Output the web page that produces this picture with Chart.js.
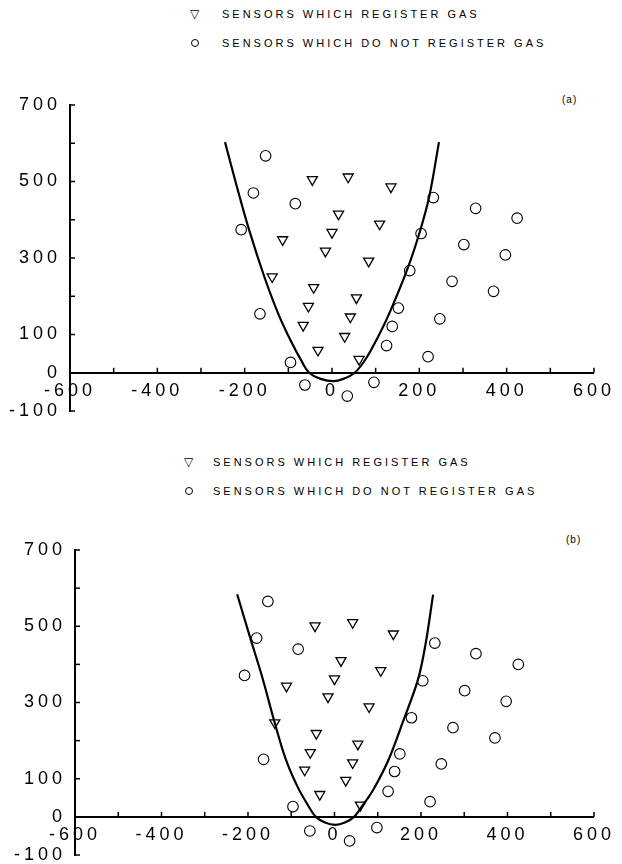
<!DOCTYPE html>
<html><head><meta charset="utf-8">
<script src="https://cdn.jsdelivr.net/npm/chart.js@4/dist/chart.umd.min.js"></script>
<style>
body{margin:0;background:#fff;width:622px;height:864px;position:relative;overflow:hidden;font-family:"Liberation Sans",Arial,sans-serif;color:#000;}
.panel{position:absolute;left:0;width:622px;}
.leg{position:absolute;font-size:11px;line-height:14px;letter-spacing:3px;white-space:nowrap;}
.sym{position:absolute;font-size:12px;line-height:14px;}
.circ{position:absolute;width:6px;height:6px;border:1.2px solid #000;border-radius:50%;}
.tag{position:absolute;font-size:10px;line-height:12px;letter-spacing:1px;}
</style></head><body>

<div class="sym" style="left:190px;top:7px">▽</div>
<div class="leg" style="left:222px;top:7px">SENSORS WHICH REGISTER GAS</div>
<div class="circ" style="left:191px;top:39px"></div>
<div class="leg" style="left:222px;top:36px">SENSORS WHICH DO NOT REGISTER GAS</div>
<div class="tag" style="left:562px;top:94px">(a)</div>

<div class="sym" style="left:184px;top:455px">▽</div>
<div class="leg" style="left:213px;top:455px">SENSORS WHICH REGISTER GAS</div>
<div class="circ" style="left:185px;top:487px"></div>
<div class="leg" style="left:213px;top:484px">SENSORS WHICH DO NOT REGISTER GAS</div>
<div class="tag" style="left:566px;top:534px">(b)</div>

<div class="panel" style="top:0;height:450px"><canvas id="ca" width="622" height="450"></canvas></div>
<div class="panel" style="top:420px;height:470px"><canvas id="cb" width="622" height="470"></canvas></div>

<script>
// ---- tick labels ----
const xTickLabels = [-600, -400, -200, 0, 200, 400, 600];
const yTickLabels = [700, 500, 300, 100, 0, -100];

// ---- panel (a) ----
const regA_x = [-45, 37, 135, 15, 109, 0, -113, -15, 84, -137, -42, 56, -54, 42, -66, 29, -32, 62];
const regA_y = [505, 512, 486, 415, 389, 367, 348, 318, 292, 251, 223, 196, 174, 146, 124, 95, 59, 35];
const notA_x = [203, -152, -180, -84, -208, 232, 329, 424, 204, 302, 397, 178, 275, 370, -165, 152, 247, 138, 125, 220, -95, -62, 96, 35];
const notA_y = [724, 567, 470, 442, 374, 458, 430, 404, 364, 335, 308, 267, 239, 213, 154, 169, 141, 121, 71, 42, 27, -32, -25, -61];
const curveA_x = [-245, -218, -190, -155, -123, -95, -68, -52, -26, 3, 26, 52, 75, 100, 130, 173, 202, 223, 245];
const curveA_y = [603, 487, 374, 251, 154, 85, 27, 0, -16, -22, -16, 0, 32, 82, 152, 272, 372, 462, 603];

// ---- panel (b) ----
const regB_x = [-45, 42, 136, 15, 107, 0, -111, -15, 80, -138, -42, 54, -56, 42, -69, 26, -34, 60];
const regB_y = [501, 510, 480, 410, 384, 362, 343, 315, 289, 247, 219, 191, 169, 142, 123, 96, 59, 31];
const notB_x = [205, -154, -180, -84, -208, 232, 327, 425, 204, 301, 397, 178, 274, 371, -164, 151, 247, 139, 124, 221, -96, -57, 98, 35];
const notB_y = [724, 565, 469, 440, 371, 456, 428, 400, 357, 331, 303, 260, 234, 207, 151, 165, 139, 119, 67, 40, 27, -37, -28, -63];
const curveB_x = [-225, -195, -168, -139, -113, -85, -60, -43, -22, 2, 24, 45, 65, 90, 125, 160, 193, 211, 228];
const curveB_y = [584, 470, 370, 250, 152, 78, 28, 0, -15, -21, -15, 0, 30, 72, 150, 255, 360, 456, 583];

const FONT = "'Liberation Sans', Arial, sans-serif";
const INK = '#000';

function pts(xs, ys) { return xs.map((x, i) => ({x: x, y: ys[i]})); }

const spacing = {
  id: 'spacing',
  beforeLayout(chart) { chart.ctx.letterSpacing = '4px'; },
  beforeDraw(chart) { chart.ctx.letterSpacing = '4px'; }
};

const tickMarks = {
  id: 'tickMarks',
  afterDraw(chart) {
    const ctx = chart.ctx, xs = chart.scales.x, ys = chart.scales.y;
    const y0 = ys.getPixelForValue(0);
    const x0 = xs.getPixelForValue(-600);
    ctx.save();
    ctx.strokeStyle = INK;
    ctx.lineWidth = 1.5;
    xs.ticks.forEach(t => {
      const px = xs.getPixelForValue(t.value);
      ctx.beginPath(); ctx.moveTo(px, y0); ctx.lineTo(px, y0 - 5); ctx.stroke();
    });
    ys.ticks.forEach(t => {
      const py = ys.getPixelForValue(t.value);
      ctx.beginPath(); ctx.moveTo(x0, py); ctx.lineTo(x0 + 5, py); ctx.stroke();
    });
    ctx.restore();
  }
};

function makeChart(id, reg, not, curve, area, H) {
  return new Chart(document.getElementById(id), {
    type: 'scatter',
    data: {
      datasets: [
        { label: 'SENSORS WHICH REGISTER GAS', data: reg, pointStyle: 'triangle', rotation: 180,
          pointRadius: 5.8, backgroundColor: 'rgba(0,0,0,0)', borderColor: INK, borderWidth: 1.3, clip: false },
        { label: 'SENSORS WHICH DO NOT REGISTER GAS', data: not, pointStyle: 'circle',
          pointRadius: 5.3, backgroundColor: 'rgba(0,0,0,0)', borderColor: INK, borderWidth: 1.1, clip: false },
        { label: 'boundary', data: curve, showLine: true, pointRadius: 0, borderColor: INK,
          borderWidth: 2.2, tension: 0.35, fill: false, clip: false }
      ]
    },
    options: {
      responsive: false, animation: false, devicePixelRatio: 1,
      layout: { padding: { top: area.top, bottom: H - area.bottom, right: 622 - area.right, left: 0 } },
      plugins: { legend: { display: false }, tooltip: { enabled: false } },
      scales: {
        x: {
          type: 'linear', min: -600, max: 600, position: { y: 0 },
          afterFit: s => { s.height = 0; },
          ticks: { stepSize: 100, autoSkip: false, maxRotation: 0, padding: 7, color: INK,
            font: { family: FONT, size: 18 },
            callback: v => xTickLabels.includes(v) ? String(v) : '' },
          grid: { drawOnChartArea: false, drawTicks: false },
          border: { display: true, color: INK, width: 2 }
        },
        y: {
          type: 'linear', min: -100, max: 700, position: 'left',
          afterFit: s => { s.width = area.left; },
          ticks: { stepSize: 100, autoSkip: false, padding: 9, color: INK,
            font: { family: FONT, size: 18 },
            callback: v => yTickLabels.includes(v) ? String(v) : '' },
          grid: { drawOnChartArea: false, drawTicks: false },
          border: { display: true, color: INK, width: 2 }
        }
      }
    },
    plugins: [spacing, tickMarks]
  });
}

makeChart('ca', pts(regA_x, regA_y), pts(notA_x, notA_y), pts(curveA_x, curveA_y),
  { left: 70, right: 596, top: 105, bottom: 411 }, 450);
makeChart('cb', pts(regB_x, regB_y), pts(notB_x, notB_y), pts(curveB_x, curveB_y),
  { left: 75, right: 599, top: 130, bottom: 435 }, 470);
</script>
</body></html>
